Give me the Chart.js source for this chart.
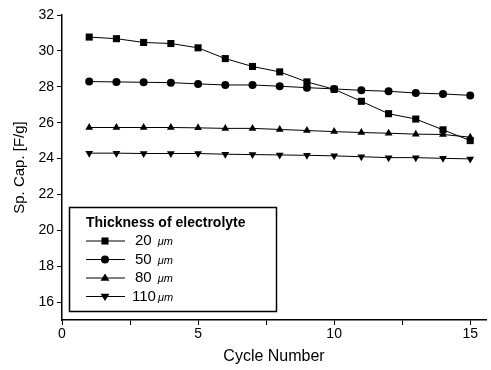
<!DOCTYPE html>
<html>
<head>
<meta charset="utf-8">
<script src="https://cdn.jsdelivr.net/npm/chart.js@4/dist/chart.umd.min.js"></script>
<style>
  html, body { margin: 0; padding: 0; background: #fff; }
  #wrap { width: 491px; height: 370px; }
</style>
</head>
<body>
<div id="wrap"><canvas id="capChart"></canvas></div>
<script>
// =========================
// DATA
// =========================
const cycles = [1,2,3,4,5,6,7,8,9,10,11,12,13,14,15];
const cap20  = [30.77,30.68,30.47,30.41,30.17,29.57,29.13,28.83,28.27,27.86,27.19,26.50,26.20,25.60,25.00];
const cap50  = [28.29,28.27,28.25,28.23,28.16,28.10,28.10,28.03,27.95,27.88,27.80,27.75,27.65,27.60,27.52];
const cap80  = [25.73,25.73,25.73,25.73,25.71,25.68,25.68,25.62,25.56,25.50,25.45,25.41,25.36,25.34,25.19];
const cap110 = [24.30,24.30,24.28,24.28,24.28,24.24,24.22,24.20,24.18,24.15,24.10,24.05,24.05,24.01,23.98];

const seriesLabels = ['20', '50', '80', '110'];
const unitLabel = '\u03bcm';
const legendTitle = 'Thickness of electrolyte';

const xTicks = [0, 2.5, 5, 7.5, 10, 12.5, 15];
const xLabels = [0, 5, 10, 15];
const yTicks = [16,17,18,19,20,21,22,23,24,25,26,27,28,29,30,31,32];
const yLabels = [16,18,20,22,24,26,28,30,32];

const FONT = '"Liberation Sans", Arial, sans-serif';
Chart.defaults.font.family = FONT;
Chart.defaults.color = '#000';

const markers = [
  { style: 'rect',     radius: 5,   rotation: 0 },
  { style: 'circle',   radius: 4,   rotation: 0 },
  { style: 'triangle', radius: 4.5, rotation: 0 },
  { style: 'triangle', radius: 4.5, rotation: 180 }
];

function pts(vals) {
  return cycles.map((c, i) => ({ x: c, y: vals[i] }));
}

const allSeries = [cap20, cap50, cap80, cap110];

// =========================
// LEGEND BOX (inside plot)
// =========================
function drawMarker(ctx, m, x, y) {
  ctx.beginPath();
  if (m.style === 'rect') {
    const s = m.radius * Math.SQRT1_2;
    ctx.rect(x - s, y - s, 2 * s, 2 * s);
  } else if (m.style === 'circle') {
    ctx.arc(x, y, m.radius, 0, Math.PI * 2);
  } else {
    const r = m.radius, d = m.rotation ? -1 : 1;
    ctx.moveTo(x, y - d * r);
    ctx.lineTo(x - r * 0.866 * 1.15, y + d * r * 0.6);
    ctx.lineTo(x + r * 0.866 * 1.15, y + d * r * 0.6);
    ctx.closePath();
  }
  ctx.fill();
}

const legendBox = {
  id: 'legendBox',
  afterDraw(chart) {
    const ctx = chart.ctx;
    ctx.save();
    ctx.strokeStyle = '#000';
    ctx.lineWidth = 1.5;
    ctx.strokeRect(69.5, 207.5, 207, 104);

    ctx.fillStyle = '#000';
    ctx.textBaseline = 'middle';
    ctx.font = 'bold 14px ' + FONT;
    ctx.fillText(legendTitle, 86, 223);

    seriesLabels.forEach((lab, i) => {
      const y = 241 + i * 18.5;
      ctx.lineWidth = 1;
      ctx.beginPath();
      ctx.moveTo(86, y);
      ctx.lineTo(125, y);
      ctx.stroke();
      drawMarker(ctx, markers[i], 105, y);
      ctx.font = '15px ' + FONT;
      const tx = lab.length > 2 ? 132 : 135;
      ctx.fillText(lab, tx, y);
      const w = ctx.measureText(lab).width;
      ctx.font = 'italic 11px ' + FONT;
      ctx.fillText(unitLabel, tx + w + (lab.length > 2 ? 2 : 6), y + 1);
    });
    ctx.restore();
  }
};

// =========================
// CHART
// =========================
const capCtx = document.getElementById('capChart');

new Chart(capCtx, {
  type: 'scatter',
  data: {
    datasets: allSeries.map((vals, i) => ({
      label: seriesLabels[i] + ' ' + unitLabel,
      data: pts(vals),
      showLine: true,
      borderColor: '#000',
      backgroundColor: '#000',
      borderWidth: 1,
      pointStyle: markers[i].style,
      pointRadius: markers[i].radius,
      pointRotation: markers[i].rotation,
      pointBorderWidth: 0
    }))
  },
  options: {
    responsive: true,
    maintainAspectRatio: false,
    animation: false,
    layout: { padding: { top: 15, right: 1, left: 0, bottom: 0 } },
    plugins: { legend: { display: false }, tooltip: { enabled: false } },
    scales: {
      x: {
        type: 'linear',
        min: 0,
        max: 15.58,
        afterBuildTicks: s => { s.ticks = xTicks.map(v => ({ value: v })); },
        afterFit: s => { s.height = 50; },
        ticks: {
          font: { size: 14 },
          padding: 1,
          maxRotation: 0,
          callback: v => xLabels.includes(v) ? String(v) : ''
        },
        grid: { drawOnChartArea: false, drawTicks: true, tickLength: 5, color: '#000' },
        border: { color: '#000', width: 1.5 },
        title: { display: true, text: 'Cycle Number', font: { size: 16 }, padding: { top: 3 } }
      },
      y: {
        min: 15,
        max: 32,
        afterBuildTicks: s => { s.ticks = yTicks.map(v => ({ value: v })); },
        afterFit: s => { s.width = 62; },
        ticks: {
          font: { size: 14 },
          padding: 3,
          callback: v => yLabels.includes(v) ? String(v) : ''
        },
        grid: { drawOnChartArea: false, drawTicks: true, tickLength: 5, color: '#000' },
        border: { color: '#000', width: 1.5 },
        title: { display: true, text: 'Sp. Cap. [F/g]', font: { size: 15 }, padding: { bottom: 0, top: 11 } }
      }
    }
  },
  plugins: [legendBox]
});
</script>
</body>
</html>
